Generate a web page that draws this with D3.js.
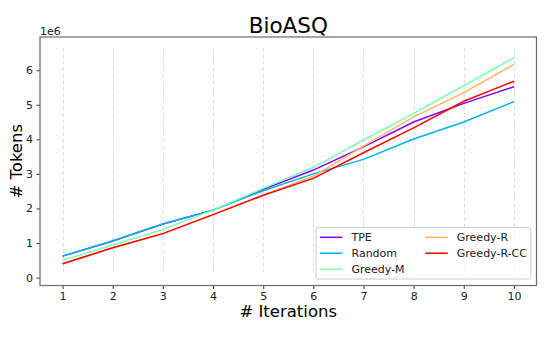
<!DOCTYPE html>
<html><head><meta charset="utf-8">
<script src="https://cdn.jsdelivr.net/npm/d3@7"></script>
<style>body{margin:0;background:#fff}svg{display:block}text{font-family:"DejaVu Sans",sans-serif}</style>
</head><body><svg id="c" width="553" height="337"></svg>
<script>
const iterations = [1,2,3,4,5,6,7,8,9,10];
const seriesNames = ["TPE","Random","Greedy-M","Greedy-R","Greedy-R-CC"];
const tpe       = [0.62,1.06,1.55,1.95,2.55,3.11,3.78,4.50,5.04,5.52];
const random    = [0.62,1.06,1.55,1.95,2.51,3.00,3.42,4.01,4.50,5.09];
const greedyM   = [0.50,0.94,1.39,1.95,2.58,3.19,3.98,4.75,5.55,6.36];
const greedyR   = [0.40,0.86,1.27,1.82,2.38,2.93,3.80,4.65,5.35,6.17];
const greedyRCC = [0.40,0.86,1.27,1.82,2.38,2.87,3.61,4.33,5.10,5.68];
const colors = ["#8000ff","#00b4eb","#80ffb4","#ffb462","#ff0000"];
const yTicks = [0,1,2,3,4,5,6];
const values = [tpe,random,greedyM,greedyR,greedyRCC];

const svg = d3.select("#c");
const L=40, R=536.5, T=37, B=285.5;
const x = d3.scaleLinear().domain([0.55,10.45]).range([L,R]);
const y = d3.scaleLinear().domain([-0.23,6.96]).range([B,T]);

// grid
svg.append("g").selectAll("line").data(iterations).join("line")
  .attr("x1",d=>Math.round(x(d))+0.5).attr("x2",d=>Math.round(x(d))+0.5)
  .attr("y1",48).attr("y2",273)
  .attr("stroke","#d9d9d9").attr("stroke-width",0.9).attr("stroke-dasharray","3.5,3");

// axes
const xa = svg.append("g").attr("transform",`translate(0,${B})`)
  .call(d3.axisBottom(x).tickValues(iterations).tickFormat(d3.format("d")).tickSize(3.5).tickPadding(3.5));
const ya = svg.append("g").attr("transform",`translate(${L},0)`)
  .call(d3.axisLeft(y).tickValues(yTicks).tickFormat(d3.format("d")).tickSize(3.5).tickPadding(3.5));
[xa,ya].forEach(a=>{
  a.select(".domain").remove();
  a.selectAll("line").attr("stroke","#333");
  a.selectAll("text").attr("font-size","11px").attr("fill","#222").attr("font-family","DejaVu Sans");
});
svg.append("rect").attr("x",L).attr("y",T).attr("width",R-L).attr("height",B-T)
  .attr("fill","none").attr("stroke","#6a6a6a").attr("stroke-width",1.2);

// lines
const line = d3.line().x((d,i)=>x(iterations[i])).y(d=>y(d));
values.forEach((v,i)=>{
  svg.append("path").datum(v).attr("d",line).attr("fill","none")
    .attr("stroke",colors[i]).attr("stroke-width",1.5);
});

// texts
svg.append("text").attr("x",(L+R)/2).attr("y",33).attr("text-anchor","middle")
  .attr("font-size","21.5px").attr("fill","#000").text("BioASQ");
svg.append("text").attr("x",(L+R)/2).attr("y",317).attr("text-anchor","middle")
  .attr("font-size","16.5px").attr("fill","#000").text("# Iterations");
svg.append("text").attr("transform",`translate(22,${(T+B)/2}) rotate(-90)`).attr("text-anchor","middle")
  .attr("font-size","16.5px").attr("fill","#000").text("# Tokens");
svg.append("text").attr("x",40).attr("y",34.5).attr("font-size","11px").attr("fill","#222").text("1e6");

// legend
const lg = svg.append("g");
lg.append("rect").attr("x",316).attr("y",227.5).attr("width",215).attr("height",51.5).attr("rx",2.5)
  .attr("fill","rgba(255,255,255,0.8)").attr("stroke","#cccccc").attr("stroke-width",1);
seriesNames.forEach((n,i)=>{
  const col = i<3?0:1, row = i<3?i:i-3;
  const hx = col===0?320:425.3, ty = 237.3+row*15.9;
  lg.append("line").attr("x1",hx).attr("x2",hx+22.5).attr("y1",ty).attr("y2",ty)
    .attr("stroke",colors[i]).attr("stroke-width",1.5);
  lg.append("text").attr("x",hx+31.5).attr("y",ty+4).attr("font-size","11px").attr("fill","#222").text(n);
});
</script></body></html>
